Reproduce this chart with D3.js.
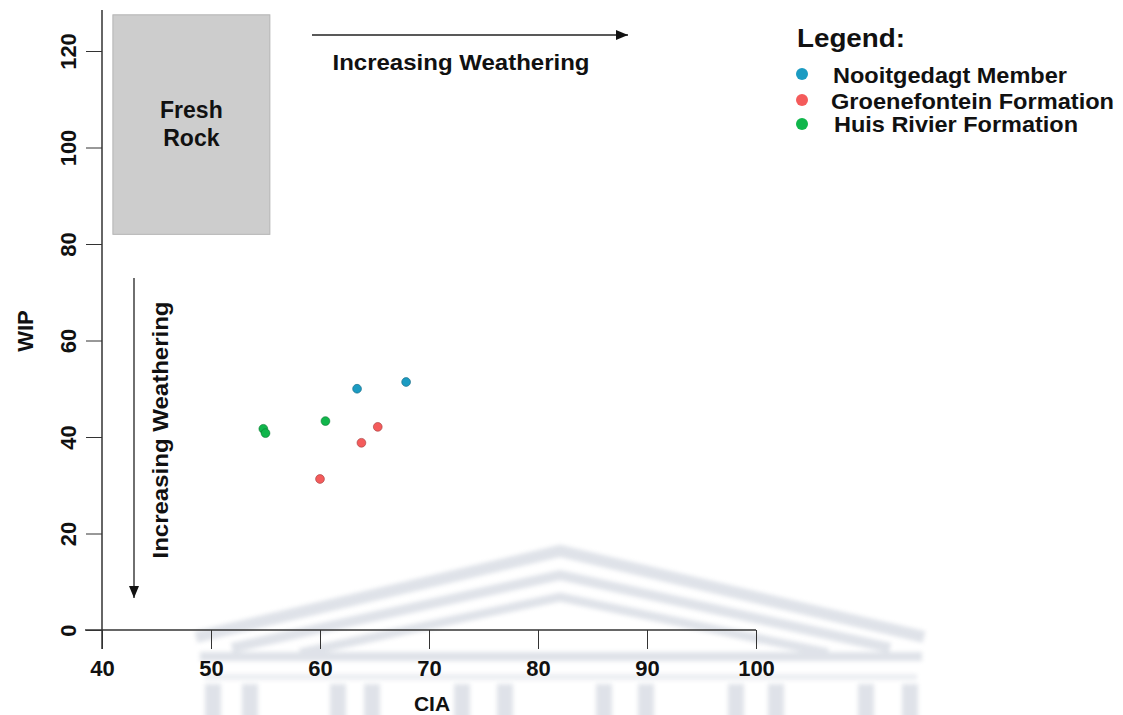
<!DOCTYPE html>
<html>
<head>
<meta charset="utf-8">
<script src="https://cdn.jsdelivr.net/npm/d3@7"></script>
<style>
  html, body { margin: 0; padding: 0; background: #fff; }
  svg { display: block; font-family: "Liberation Sans", Arial, sans-serif; }
</style>
</head>
<body>
<svg id="chart" width="1123" height="715"></svg>
<script>
// ---- data ----
const seriesNames = ["Nooitgedagt Member", "Groenefontein Formation", "Huis Rivier Formation"];

const nooitgedagtCIA = [63.4, 67.9];
const nooitgedagtWIP = [50.0, 51.4];

const groenefonteinCIA = [65.3, 63.8, 60.0];
const groenefonteinWIP = [42.1, 38.8, 31.3];

const huisRivierCIA = [54.8, 55.0, 60.5];
const huisRivierWIP = [41.7, 40.8, 43.3];

// field outlined as unweathered parent material
const freshRockCIA = [41, 55.4];
const freshRockWIP = [82, 127.5];

const xTicks = [40, 50, 60, 70, 80, 90, 100];
const yTicks = [0, 20, 40, 60, 80, 100, 120];

// ---- styling ----
const seriesColors = ["#1b9bc2", "#f45b5b", "#10b64b"];
const ink = "#111";

const svg = d3.select("#chart");
const defs = svg.append("defs");

const x = d3.scaleLinear().domain([40, 100]).range([102, 756]);
const y = d3.scaleLinear().domain([0, 120]).range([630, 51]);

// faint background emblem
defs.append("filter").attr("id", "soft")
  .attr("x", "-10%").attr("y", "-10%").attr("width", "120%").attr("height", "120%")
  .append("feGaussianBlur").attr("stdDeviation", 2.2);
const emblem = svg.append("g")
  .attr("opacity", 0.42)
  .attr("filter", "url(#soft)");
const embColor = "#b4bccb";
const roofs = [
  { pts: [[196, 637], [560, 551], [924, 637]], w: 12 },
  { pts: [[232, 648], [560, 575], [890, 648]], w: 10 },
  { pts: [[300, 653], [560, 597], [828, 653]], w: 9 }
];
roofs.forEach(r => {
  emblem.append("polyline")
    .attr("points", r.pts.map(p => p.join(",")).join(" "))
    .attr("fill", "none").attr("stroke", embColor)
    .attr("stroke-width", r.w).attr("stroke-linejoin", "miter");
});
emblem.append("rect").attr("x", 200).attr("y", 652).attr("width", 722).attr("height", 9).attr("fill", embColor);
emblem.append("rect").attr("x", 205).attr("y", 674).attr("width", 712).attr("height", 6).attr("fill", embColor).attr("opacity", 0.6);
[213, 250, 338, 372, 462, 505, 604, 646, 736, 776, 866, 910].forEach(cx => {
  emblem.append("rect").attr("x", cx - 8).attr("y", 684).attr("width", 16).attr("height", 40).attr("fill", embColor);
});

// fresh rock field
svg.append("rect")
  .attr("x", x(freshRockCIA[0]))
  .attr("y", y(freshRockWIP[1]))
  .attr("width", x(freshRockCIA[1]) - x(freshRockCIA[0]))
  .attr("height", y(freshRockWIP[0]) - y(freshRockWIP[1]))
  .attr("fill", "#cdcdcd")
  .attr("stroke", "#b4b4b4")
  .attr("stroke-width", 1);

const freshCx = (x(freshRockCIA[0]) + x(freshRockCIA[1])) / 2;
svg.append("text").attr("x", freshCx).attr("y", 118)
  .attr("text-anchor", "middle").attr("font-size", 23).attr("font-weight", "bold").attr("fill", ink)
  .text("Fresh");
svg.append("text").attr("x", freshCx).attr("y", 146)
  .attr("text-anchor", "middle").attr("font-size", 23).attr("font-weight", "bold").attr("fill", ink)
  .text("Rock");

// axes
const yAxis = d3.axisLeft(y).tickValues(yTicks).tickSize(16).tickSizeOuter(0).tickFormat(d3.format("d"));
const gy = svg.append("g").attr("transform", "translate(102,0)").call(yAxis);
gy.select(".domain").remove();
gy.selectAll(".tick line").attr("stroke", "#333").attr("stroke-width", 1);
gy.selectAll(".tick text")
  .attr("x", null).attr("dy", null)
  .attr("transform", "translate(-34,0) rotate(-90)")
  .attr("text-anchor", "middle")
  .attr("dominant-baseline", "central")
  .attr("font-size", 22).attr("font-weight", "bold").attr("fill", ink)
  .attr("font-family", "Liberation Sans, Arial, sans-serif");

const xAxis = d3.axisBottom(x).tickValues(xTicks).tickSize(19).tickSizeOuter(0).tickFormat(d3.format("d"));
const gx = svg.append("g").attr("transform", "translate(0,630)").call(xAxis);
gx.select(".domain").remove();
gx.selectAll(".tick line").attr("stroke", "#333").attr("stroke-width", 1);
gx.selectAll(".tick text")
  .attr("y", 38).attr("dy", "0.35em")
  .attr("font-size", 22).attr("font-weight", "bold").attr("fill", ink)
  .attr("font-family", "Liberation Sans, Arial, sans-serif");

// axis lines
svg.append("line").attr("x1", 102).attr("x2", 102).attr("y1", y(0) + 19).attr("y2", 10)
  .attr("stroke", "#333").attr("stroke-width", 1.5);
svg.append("line").attr("x1", 85).attr("x2", x(100)).attr("y1", y(0)).attr("y2", y(0))
  .attr("stroke", "#333").attr("stroke-width", 1.5);

// axis titles
svg.append("text").attr("transform", "translate(25,331) rotate(-90)")
  .attr("text-anchor", "middle").attr("dominant-baseline", "central")
  .attr("font-size", 22).attr("font-weight", "bold").attr("fill", ink).text("WIP");
svg.append("text").attr("x", 432).attr("y", 711)
  .attr("text-anchor", "middle")
  .attr("font-size", 21).attr("font-weight", "bold").attr("fill", ink)
  .text("CIA");

// weathering direction arrows
defs.append("marker").attr("id", "head")
  .attr("viewBox", "0 0 12 10").attr("refX", 12).attr("refY", 5)
  .attr("markerWidth", 12).attr("markerHeight", 10).attr("markerUnits", "userSpaceOnUse")
  .attr("orient", "auto")
  .append("path").attr("d", "M0,0 L12,5 L0,10 Z").attr("fill", ink);

svg.append("line").attr("x1", 312).attr("x2", 628).attr("y1", 35).attr("y2", 35)
  .attr("stroke", "#222").attr("stroke-width", 1.3).attr("marker-end", "url(#head)");
svg.append("text").attr("x", 461).attr("y", 70)
  .attr("text-anchor", "middle").attr("font-size", 22).attr("font-weight", "bold").attr("fill", ink)
  .attr("textLength", 257).attr("lengthAdjust", "spacingAndGlyphs")
  .text("Increasing Weathering");

svg.append("line").attr("x1", 134).attr("x2", 134).attr("y1", 278).attr("y2", 598)
  .attr("stroke", "#222").attr("stroke-width", 1.3).attr("marker-end", "url(#head)");
svg.append("text").attr("transform", "translate(168,430) rotate(-90)")
  .attr("text-anchor", "middle").attr("font-size", 22).attr("font-weight", "bold").attr("fill", ink)
  .attr("textLength", 257).attr("lengthAdjust", "spacingAndGlyphs")
  .text("Increasing Weathering");

// sample points
const groups = [
  { cia: nooitgedagtCIA, wip: nooitgedagtWIP },
  { cia: groenefonteinCIA, wip: groenefonteinWIP },
  { cia: huisRivierCIA, wip: huisRivierWIP }
];
groups.forEach((g, i) => {
  const pts = g.cia.map((c, j) => ({ cia: c, wip: g.wip[j] }));
  svg.append("g").selectAll("circle").data(pts).join("circle")
    .attr("cx", d => x(d.cia))
    .attr("cy", d => y(d.wip))
    .attr("r", 4.4)
    .attr("fill", seriesColors[i])
    .attr("stroke", d3.color(seriesColors[i]).darker(1.2))
    .attr("stroke-width", 0.6);
});

// legend
svg.append("text").attr("x", 797).attr("y", 47)
  .attr("font-size", 25).attr("font-weight", "bold").attr("fill", ink)
  .attr("textLength", 108).attr("lengthAdjust", "spacingAndGlyphs")
  .text("Legend:");
const legendRows = [
  { dotY: 74, textY: 83, textX: 833, len: 234 },
  { dotY: 100, textY: 109, textX: 831, len: 283 },
  { dotY: 124, textY: 132, textX: 834, len: 244 }
];
seriesNames.forEach((name, i) => {
  const row = legendRows[i];
  svg.append("circle").attr("cx", 802).attr("cy", row.dotY).attr("r", 6).attr("fill", seriesColors[i]);
  svg.append("text").attr("x", row.textX).attr("y", row.textY)
    .attr("font-size", 22).attr("font-weight", "bold").attr("fill", ink)
    .attr("textLength", row.len).attr("lengthAdjust", "spacingAndGlyphs")
    .text(name);
});
</script>
</body>
</html>
